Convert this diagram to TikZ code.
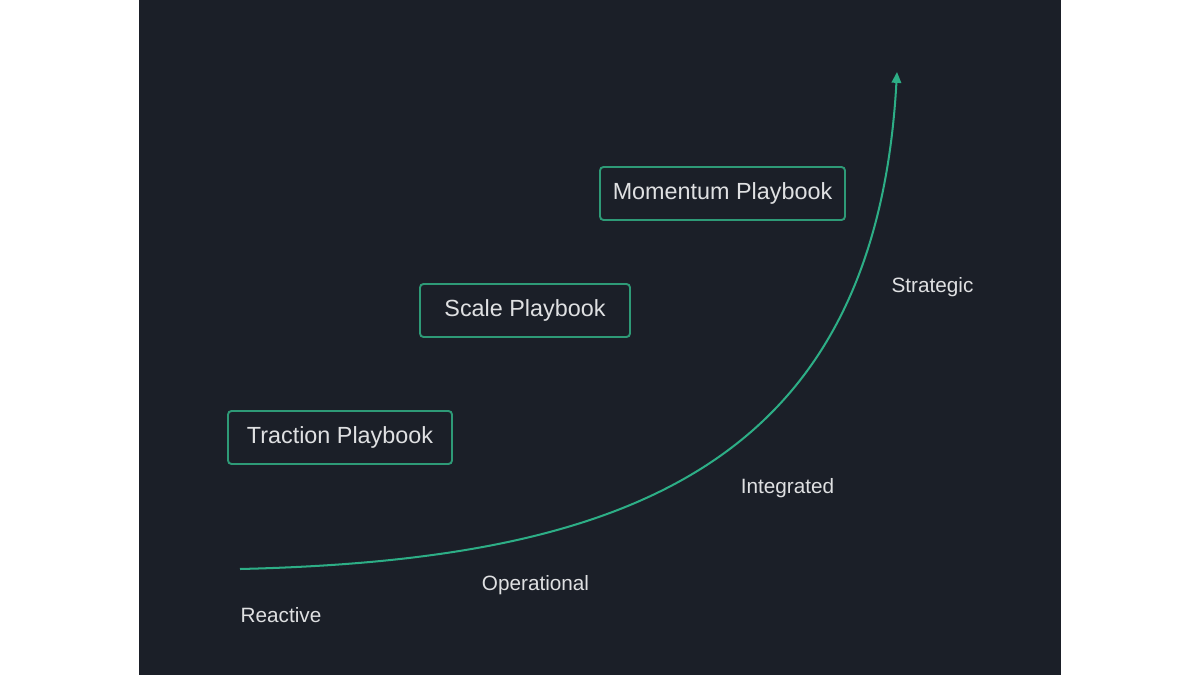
\documentclass[tikz,border=0pt]{standalone}
\usepackage{fontspec}
\setmainfont{Liberation Sans}
\usetikzlibrary{arrows.meta}
\definecolor{panel}{HTML}{1B1F28}
\definecolor{mint}{HTML}{2DAE86}
\definecolor{boxline}{HTML}{2E9A77}
\definecolor{label}{HTML}{DFE0E2}

\begin{document}
\begin{tikzpicture}[
  x=0.02cm, y=-0.02cm,
  play/.style={
    draw=boxline, line width=1.1pt, rounded corners=2pt,
    minimum height=1.06cm, inner sep=0pt,
    text=label, font=\fontsize{13.3}{16}\selectfont
  },
  stage/.style={anchor=base, text=label, font=\fontsize{11.8}{14}\selectfont},
  curve/.style={draw=mint, line width=1.15pt}
]

% --- Background ---
\fill[white] (0,0) rectangle (1200,675);
\fill[panel] (139,0) rectangle (1061,675);

% --- Playbooks ---
\foreach \name/\w/\x/\y in
  {Traction/4.48/340/437.5, Scale/4.2/525/310.5, Momentum/4.9/722.5/193.5}
{
  \node[play, minimum width=\w cm] (\name) at (\x,\y) {\name{} Playbook};
}

% --- Stages ---
\foreach \lbl/\x/\y in
  {Reactive/281/622, Operational/535.5/590, Integrated/787.5/493, Strategic/932.5/293}
{
  \node[stage] (\lbl) at (\x,\y) {\lbl};
}

% --- Growth curve ---
\coordinate (start) at (240,569);
\coordinate (tip) at (897,72);
\draw[curve, -{Triangle[width=5.4pt, length=6.2pt]}]
  (start) .. controls (620,560) and (875,470) .. (tip);

\end{tikzpicture}
\end{document}
